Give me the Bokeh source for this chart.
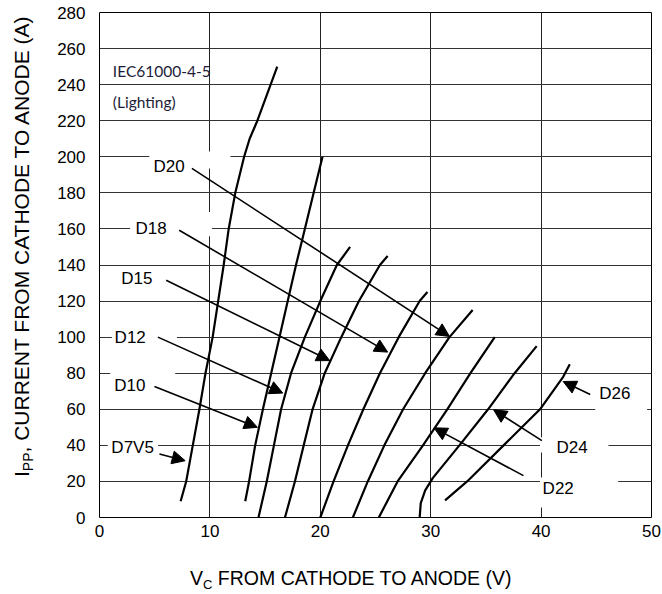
import math
from bokeh.plotting import figure
from bokeh.models import Range1d, FixedTicker, Label, Arrow, NormalHead, ColumnDataSource, Div
from bokeh.layouts import column, row
from bokeh.core.properties import value
from bokeh.embed import file_html
from bokeh.resources import INLINE

# ---------------- data ----------------
x_ticks = [0, 10, 20, 30, 40, 50]
y_ticks = [0, 20, 40, 60, 80, 100, 120, 140, 160, 180, 200, 220, 240, 260, 280]

d7v5_v = [7.35, 7.85, 8.45, 9.05, 9.6, 10.25, 10.75, 11.25, 11.7, 12.3, 12.7, 13.1, 13.6, 14.3, 16.1]
d7v5_i = [9, 20, 40, 60, 80, 100, 120, 140, 160, 180, 190, 200, 210, 220, 250]
d10_v = [13.2, 13.55, 14.1, 14.8, 15.55, 16.3, 17.05, 17.8, 18.6, 19.4, 20.2]
d10_i = [9, 20, 40, 60, 80, 100, 120, 140, 160, 180, 200]
d12_v = [14.4, 15.15, 15.8, 16.45, 17.35, 18.6, 20.0, 21.5, 22.7]
d12_i = [0, 20, 40, 60, 80, 100, 120, 140, 150]
d15_v = [16.8, 17.7, 18.5, 19.3, 20.4, 21.9, 23.5, 25.4, 26.1]
d15_i = [0, 20, 40, 60, 80, 100, 120, 140, 145]
d18_v = [20.0, 21.2, 22.5, 23.9, 25.4, 27.1, 29.0, 29.7]
d18_i = [0, 20, 40, 60, 80, 100, 120, 125]
d20_v = [22.95, 24.3, 25.8, 27.5, 29.5, 31.7, 33.8]
d20_i = [0, 20, 40, 60, 80, 100, 115]
d22_v = [25.3, 27.0, 29.3, 31.5, 33.6, 35.8]
d22_i = [0, 20, 40, 60, 80, 100]
d24_v = [29.0, 29.1, 29.5, 30.2, 32.6, 35.2, 37.6, 39.6]
d24_i = [0, 8, 15, 22, 40, 60, 80, 95]
d26_v = [31.3, 33.3, 36.6, 39.9, 42.0, 42.6]
d26_i = [9.5, 20, 40, 60, 78, 85]

series = [(d7v5_v, d7v5_i), (d10_v, d10_i), (d12_v, d12_i), (d15_v, d15_i),
          (d18_v, d18_i), (d20_v, d20_i), (d22_v, d22_i), (d24_v, d24_i), (d26_v, d26_i)]

label_text = ["D20", "D18", "D15", "D12", "D10", "D7V5", "D22", "D24", "D26"]
label_x = [6.31, 4.68, 3.39, 2.78, 2.75, 3.0, 41.55, 42.8, 46.67]
label_y = [194.8, 160.4, 132.4, 100.0, 73.2, 38.9, 16.0, 38.7, 68.7]

arrow_x0 = [8.37, 7.22, 6.04, 5.29, 4.98, 5.43, 38.4, 40.07, 44.45]
arrow_y0 = [193.6, 159.3, 131.5, 100.0, 72.6, 35.2, 23.2, 42.6, 68.2]
arrow_x1 = [31.7, 26.1, 20.85, 16.6, 14.3, 7.76, 30.3, 35.7, 42.0]
arrow_y1 = [100.4, 91.7, 87.0, 69.0, 50.0, 31.5, 49.7, 59.7, 75.4]

# white boxes behind labels (gaps in the grid)
box_l = [4.51, 2.78, 1.12, 0.97, 0.75, 39.9, 39.9, 44.9]
box_r = [11.86, 10.18, 7.01, 6.86, 5.3, 46.98, 46.1, 49.6]
box_b = [193.5, 155.9, 96.0, 76.0, 35.0, 5.6, 36.0, 58.0]
box_t = [203.0, 169.4, 104.0, 84.0, 43.0, 22.2, 44.5, 67.6]

# ---------------- figure ----------------
p = figure(width=624, height=562, x_range=Range1d(0, 50), y_range=Range1d(0, 280),
           output_backend="svg", toolbar_location=None,
           min_border_left=61, min_border_right=11, min_border_top=12, min_border_bottom=45)
p.outline_line_color = "black"
p.outline_line_width = 1
p.background_fill_color = "white"
p.border_fill_color = "white"

for ax in (p.xaxis, p.yaxis):
    ax.axis_line_color = None
    ax.major_tick_line_color = None
    ax.minor_tick_line_color = None
    ax.major_tick_out = 0
    ax.major_tick_in = 0
    ax.minor_tick_out = 0
    ax.major_label_text_font = "Liberation Sans"
    ax.major_label_text_font_size = "17px"
    ax.major_label_text_color = "black"
p.xaxis.ticker = FixedTicker(ticks=x_ticks)
p.yaxis.ticker = FixedTicker(ticks=y_ticks)
p.xaxis.major_label_standoff = 7
p.yaxis.major_label_standoff = 14

p.xgrid.ticker = FixedTicker(ticks=x_ticks[1:-1])
p.ygrid.ticker = FixedTicker(ticks=y_ticks[1:-1])
p.xgrid.grid_line_color = "#222222"
p.ygrid.grid_line_color = "#333333"
p.xgrid.grid_line_width = 1
p.ygrid.grid_line_width = 1.2

p.quad(left=box_l, right=box_r, bottom=box_b, top=box_t, fill_color="white", line_color=None)

for v, i in series:
    p.line(v, i, line_color="black", line_width=2.2, line_join="round")

src = ColumnDataSource(dict(x0=arrow_x0, y0=arrow_y0, x1=arrow_x1, y1=arrow_y1))
p.add_layout(Arrow(end=NormalHead(size=13, fill_color="black", line_color="black", line_width=1),
                   x_start="x0", y_start="y0", x_end="x1", y_end="y1", source=src,
                   line_color="black", line_width=1.6))

p.text(x=label_x, y=label_y, text=label_text, text_font=value("Liberation Sans"),
       text_font_size="17px", text_align="center", text_baseline="middle", text_color="black")

p.add_layout(Label(x=1.21, y=247.7, text="IEC61000-4-5", text_font="Lato", text_font_size="15.5px",
                   text_align="left", text_baseline="middle", text_color="#1c1c38"))
p.add_layout(Label(x=1.21, y=230.4, text="(Lighting)", text_font="Lato", text_font_size="15.5px",
                   text_align="left", text_baseline="middle", text_color="#1c1c38"))

# axis titles with subscripts (HTML text)
base_css = "font-family:'Liberation Sans', Arial, sans-serif; line-height:20px; color:black; white-space:nowrap;"
sub_css = "font-size:13px; vertical-align:-4px; line-height:0;"

ydiv = Div(width=38, height=562, margin=(0, 0, 0, 0),
           text=('<div style="width:480px; font-size:21px; ' + base_css +
                 ' transform-origin:0 0; transform:translate(12px,477px) rotate(-90deg);">'
                 'I<sub style="' + sub_css + ' font-size:14px;">PP</sub>, CURRENT FROM CATHODE TO ANODE (A)</div>'))
xdiv = Div(width=662, height=30, margin=(0, 0, 0, 0),
           text=('<div style="padding-left:190px; padding-top:6px; font-size:19.5px; ' + base_css + '">'
                 'V<sub style="' + sub_css + '">C</sub> FROM CATHODE TO ANODE (V)</div>'))

layout = column(row(ydiv, p), xdiv)

open("out.html", "w").write(file_html(layout, INLINE))
